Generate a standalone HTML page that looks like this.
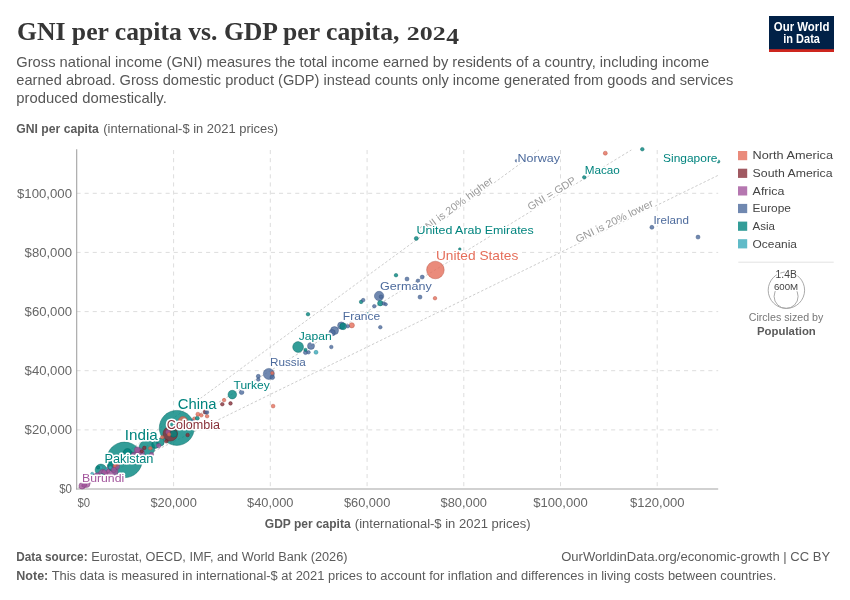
<!DOCTYPE html>
<html lang="en"><head><meta charset="utf-8"><title>GNI per capita vs. GDP per capita, 2024</title>
<style>
html,body{margin:0;padding:0;background:#fff;}
body{width:850px;height:600px;overflow:hidden;font-family:"Liberation Sans",sans-serif;}
svg{display:block;will-change:transform;opacity:0.999;}
text{font-family:"Liberation Sans",sans-serif;}
.ttl{font-family:"Liberation Serif",serif;}
.halo{paint-order:stroke;stroke:#fff;stroke-width:3.2px;stroke-linejoin:round;}
</style></head><body>
<svg width="850" height="600" viewBox="0 0 850 600">
<rect width="850" height="600" fill="#fff"/>
<g id="header">
<text class="ttl" x="17" y="40" font-weight="bold" font-size="24.5" fill="#363636" textLength="382.4" lengthAdjust="spacingAndGlyphs">GNI per capita vs. GDP per capita,</text>
<text class="ttl" x="406.8" y="40" font-weight="bold" font-size="18.4" fill="#363636" textLength="38.9" lengthAdjust="spacingAndGlyphs">202</text>
<text class="ttl" x="446.2" y="43.9" font-weight="bold" font-size="23.6" fill="#363636" textLength="12.8" lengthAdjust="spacingAndGlyphs">4</text>
<text x="16.3" y="66.5" font-size="15" fill="#565656" font-weight="normal" text-anchor="start" font-family="'Liberation Sans', sans-serif" textLength="693" lengthAdjust="spacingAndGlyphs">Gross national income (GNI) measures the total income earned by residents of a country, including income</text>
<text x="16.3" y="84.5" font-size="15" fill="#565656" font-weight="normal" text-anchor="start" font-family="'Liberation Sans', sans-serif" textLength="717" lengthAdjust="spacingAndGlyphs">earned abroad. Gross domestic product (GDP) instead counts only income generated from goods and services</text>
<text x="16.3" y="102.5" font-size="15" fill="#565656" font-weight="normal" text-anchor="start" font-family="'Liberation Sans', sans-serif" textLength="150.5" lengthAdjust="spacingAndGlyphs">produced domestically.</text>
</g>
<g id="logo">
<rect x="769" y="16" width="65" height="36" fill="#002147"/>
<rect x="769" y="49.2" width="65" height="2.8" fill="#ce261e"/>
<text x="801.6" y="30.6" font-size="12" font-weight="bold" fill="#fff" text-anchor="middle" textLength="55.6" lengthAdjust="spacingAndGlyphs">Our World</text>
<text x="801.6" y="42.7" font-size="12" font-weight="bold" fill="#fff" text-anchor="middle" textLength="36.6" lengthAdjust="spacingAndGlyphs">in Data</text>
</g>
<g id="axes">
<text x="16.3" y="133.3" font-size="12.5" fill="#5b5b5b" font-weight="bold" text-anchor="start" font-family="'Liberation Sans', sans-serif" textLength="82.5" lengthAdjust="spacingAndGlyphs">GNI per capita</text>
<text x="103.3" y="133.3" font-size="12.5" fill="#5b5b5b" font-weight="normal" text-anchor="start" font-family="'Liberation Sans', sans-serif" textLength="174.7" lengthAdjust="spacingAndGlyphs">(international-$ in 2021 prices)</text>
<line x1="76.5" x2="718.2" y1="429.9" y2="429.9" stroke="#ddd" stroke-width="1" stroke-dasharray="4.1,4"/>
<line x1="76.5" x2="718.2" y1="370.7" y2="370.7" stroke="#ddd" stroke-width="1" stroke-dasharray="4.1,4"/>
<line x1="76.5" x2="718.2" y1="311.6" y2="311.6" stroke="#ddd" stroke-width="1" stroke-dasharray="4.1,4"/>
<line x1="76.5" x2="718.2" y1="252.4" y2="252.4" stroke="#ddd" stroke-width="1" stroke-dasharray="4.1,4"/>
<line x1="76.5" x2="718.2" y1="193.3" y2="193.3" stroke="#ddd" stroke-width="1" stroke-dasharray="4.1,4"/>
<line x1="173.6" x2="173.6" y1="150.0" y2="489.0" stroke="#ddd" stroke-width="1" stroke-dasharray="4.1,4"/>
<line x1="270.3" x2="270.3" y1="150.0" y2="489.0" stroke="#ddd" stroke-width="1" stroke-dasharray="4.1,4"/>
<line x1="367.1" x2="367.1" y1="150.0" y2="489.0" stroke="#ddd" stroke-width="1" stroke-dasharray="4.1,4"/>
<line x1="463.8" x2="463.8" y1="150.0" y2="489.0" stroke="#ddd" stroke-width="1" stroke-dasharray="4.1,4"/>
<line x1="560.5" x2="560.5" y1="150.0" y2="489.0" stroke="#ddd" stroke-width="1" stroke-dasharray="4.1,4"/>
<line x1="657.2" x2="657.2" y1="150.0" y2="489.0" stroke="#ddd" stroke-width="1" stroke-dasharray="4.1,4"/>
<line x1="76.7" x2="76.7" y1="149.2" y2="489.5" stroke="#a3a3a3" stroke-width="1.1"/>
<line x1="76.1" x2="718.2" y1="489.05" y2="489.05" stroke="#a3a3a3" stroke-width="1.1"/>
<text x="72" y="493.3" font-size="12" fill="#666" font-weight="normal" text-anchor="end" font-family="'Liberation Sans', sans-serif" textLength="12.8" lengthAdjust="spacingAndGlyphs">$0</text>
<text x="72" y="434.2" font-size="12" fill="#666" font-weight="normal" text-anchor="end" font-family="'Liberation Sans', sans-serif" textLength="47.4" lengthAdjust="spacingAndGlyphs">$20,000</text>
<text x="72" y="375.0" font-size="12" fill="#666" font-weight="normal" text-anchor="end" font-family="'Liberation Sans', sans-serif" textLength="47.4" lengthAdjust="spacingAndGlyphs">$40,000</text>
<text x="72" y="315.9" font-size="12" fill="#666" font-weight="normal" text-anchor="end" font-family="'Liberation Sans', sans-serif" textLength="47.4" lengthAdjust="spacingAndGlyphs">$60,000</text>
<text x="72" y="256.7" font-size="12" fill="#666" font-weight="normal" text-anchor="end" font-family="'Liberation Sans', sans-serif" textLength="47.4" lengthAdjust="spacingAndGlyphs">$80,000</text>
<text x="72" y="197.6" font-size="12" fill="#666" font-weight="normal" text-anchor="end" font-family="'Liberation Sans', sans-serif" textLength="55.0" lengthAdjust="spacingAndGlyphs">$100,000</text>
<text x="77.5" y="506.7" font-size="12" fill="#666" font-weight="normal" text-anchor="start" font-family="'Liberation Sans', sans-serif" textLength="12.6" lengthAdjust="spacingAndGlyphs">$0</text>
<text x="173.6" y="506.7" font-size="12" fill="#666" font-weight="normal" text-anchor="middle" font-family="'Liberation Sans', sans-serif" textLength="46.4" lengthAdjust="spacingAndGlyphs">$20,000</text>
<text x="270.3" y="506.7" font-size="12" fill="#666" font-weight="normal" text-anchor="middle" font-family="'Liberation Sans', sans-serif" textLength="46.4" lengthAdjust="spacingAndGlyphs">$40,000</text>
<text x="367.1" y="506.7" font-size="12" fill="#666" font-weight="normal" text-anchor="middle" font-family="'Liberation Sans', sans-serif" textLength="46.4" lengthAdjust="spacingAndGlyphs">$60,000</text>
<text x="463.8" y="506.7" font-size="12" fill="#666" font-weight="normal" text-anchor="middle" font-family="'Liberation Sans', sans-serif" textLength="46.4" lengthAdjust="spacingAndGlyphs">$80,000</text>
<text x="560.5" y="506.7" font-size="12" fill="#666" font-weight="normal" text-anchor="middle" font-family="'Liberation Sans', sans-serif" textLength="54.4" lengthAdjust="spacingAndGlyphs">$100,000</text>
<text x="657.2" y="506.7" font-size="12" fill="#666" font-weight="normal" text-anchor="middle" font-family="'Liberation Sans', sans-serif" textLength="54.4" lengthAdjust="spacingAndGlyphs">$120,000</text>
<text x="264.8" y="527.7" font-size="12.5" fill="#5b5b5b" font-weight="bold" text-anchor="start" font-family="'Liberation Sans', sans-serif" textLength="85.8" lengthAdjust="spacingAndGlyphs">GDP per capita</text>
<text x="354.8" y="527.7" font-size="12.5" fill="#5b5b5b" font-weight="normal" text-anchor="start" font-family="'Liberation Sans', sans-serif" textLength="175.8" lengthAdjust="spacingAndGlyphs">(international-$ in 2021 prices)</text>
</g>
<g id="cmp">
<line x1="76.9" y1="489.0" x2="538.9" y2="150.0" stroke="#cdcdcd" stroke-width="1" stroke-dasharray="2.5,2"/>
<text class="halo" transform="translate(494.0,182.0) rotate(-36.27)" font-size="10.5" fill="#9a9a9a" text-anchor="end" textLength="90.0" lengthAdjust="spacingAndGlyphs">GNI is 20% higher</text>
<line x1="76.9" y1="489.0" x2="631.3" y2="150.0" stroke="#cdcdcd" stroke-width="1" stroke-dasharray="2.5,2"/>
<text class="halo" transform="translate(576.7,182.4) rotate(-31.44)" font-size="10.5" fill="#9a9a9a" text-anchor="end" textLength="54.5" lengthAdjust="spacingAndGlyphs">GNI = GDP</text>
<line x1="76.9" y1="489.0" x2="718.2" y2="175.3" stroke="#cdcdcd" stroke-width="1" stroke-dasharray="2.5,2"/>
<text class="halo" transform="translate(654.0,205.7) rotate(-26.07)" font-size="10.5" fill="#9a9a9a" text-anchor="end" textLength="85.0" lengthAdjust="spacingAndGlyphs">GNI is 20% lower</text>
</g>
<g id="pts" stroke-width="0.5">
<circle cx="124.5" cy="459.9" r="17.8" fill="#00847e" fill-opacity="0.8" stroke="#00635e" stroke-opacity="0.85"/>
<circle cx="176.8" cy="427.9" r="17.5" fill="#00847e" fill-opacity="0.8" stroke="#00635e" stroke-opacity="0.85"/>
<circle cx="435.4" cy="270.0" r="8.8" fill="#e56e5a" fill-opacity="0.8" stroke="#b4503f" stroke-opacity="0.85"/>
<circle cx="146.9" cy="448.1" r="8.0" fill="#00847e" fill-opacity="0.8" stroke="#00635e" stroke-opacity="0.85"/>
<circle cx="170.3" cy="433.8" r="7.3" fill="#883039" fill-opacity="0.8" stroke="#5e1c24" stroke-opacity="0.85"/>
<circle cx="173.6" cy="433.8" r="3.5" fill="#00847e" fill-opacity="0.8" stroke="#00635e" stroke-opacity="0.85"/>
<circle cx="100.9" cy="469.9" r="5.8" fill="#00847e" fill-opacity="0.8" stroke="#00635e" stroke-opacity="0.85"/>
<circle cx="111.6" cy="471.9" r="6.3" fill="#a2559c" fill-opacity="0.8" stroke="#7a3a75" stroke-opacity="0.85"/>
<circle cx="112.8" cy="465.8" r="5.2" fill="#00847e" fill-opacity="0.8" stroke="#00635e" stroke-opacity="0.85"/>
<circle cx="268.8" cy="373.9" r="5.5" fill="#4c6a9c" fill-opacity="0.8" stroke="#34507c" stroke-opacity="0.85"/>
<circle cx="298.1" cy="347.0" r="5.4" fill="#00847e" fill-opacity="0.8" stroke="#00635e" stroke-opacity="0.85"/>
<circle cx="182.9" cy="421.3" r="4.7" fill="#e56e5a" fill-opacity="0.8" stroke="#b4503f" stroke-opacity="0.85"/>
<circle cx="102.8" cy="473.9" r="4.4" fill="#a2559c" fill-opacity="0.8" stroke="#7a3a75" stroke-opacity="0.85"/>
<circle cx="127.5" cy="452.9" r="4.3" fill="#00847e" fill-opacity="0.8" stroke="#00635e" stroke-opacity="0.85"/>
<circle cx="131.3" cy="455.8" r="4.0" fill="#00847e" fill-opacity="0.8" stroke="#00635e" stroke-opacity="0.85"/>
<circle cx="139.8" cy="452.8" r="4.6" fill="#a2559c" fill-opacity="0.8" stroke="#7a3a75" stroke-opacity="0.85"/>
<circle cx="379.1" cy="296.0" r="4.7" fill="#4c6a9c" fill-opacity="0.8" stroke="#34507c" stroke-opacity="0.85"/>
<circle cx="232.3" cy="394.6" r="4.3" fill="#00847e" fill-opacity="0.8" stroke="#00635e" stroke-opacity="0.85"/>
<circle cx="160.3" cy="442.1" r="4.0" fill="#00847e" fill-opacity="0.8" stroke="#00635e" stroke-opacity="0.85"/>
<circle cx="155.3" cy="444.8" r="3.6" fill="#00847e" fill-opacity="0.8" stroke="#00635e" stroke-opacity="0.85"/>
<circle cx="334.5" cy="330.6" r="4.0" fill="#4c6a9c" fill-opacity="0.8" stroke="#34507c" stroke-opacity="0.85"/>
<circle cx="341.3" cy="325.6" r="3.7" fill="#4c6a9c" fill-opacity="0.8" stroke="#34507c" stroke-opacity="0.85"/>
<circle cx="343.1" cy="326.3" r="3.4" fill="#00847e" fill-opacity="0.8" stroke="#00635e" stroke-opacity="0.85"/>
<circle cx="332.1" cy="332.7" r="3.2" fill="#4c6a9c" fill-opacity="0.8" stroke="#34507c" stroke-opacity="0.85"/>
<circle cx="311.0" cy="345.9" r="3.5" fill="#4c6a9c" fill-opacity="0.8" stroke="#34507c" stroke-opacity="0.85"/>
<circle cx="351.8" cy="325.3" r="2.6" fill="#e56e5a" fill-opacity="0.8" stroke="#b4503f" stroke-opacity="0.85"/>
<circle cx="380.3" cy="303.2" r="2.7" fill="#00847e" fill-opacity="0.8" stroke="#00635e" stroke-opacity="0.85"/>
<circle cx="86.3" cy="483.8" r="3.8" fill="#a2559c" fill-opacity="0.8" stroke="#7a3a75" stroke-opacity="0.85"/>
<circle cx="90.8" cy="479.3" r="3.6" fill="#a2559c" fill-opacity="0.8" stroke="#7a3a75" stroke-opacity="0.85"/>
<circle cx="94.8" cy="477.3" r="3.4" fill="#a2559c" fill-opacity="0.8" stroke="#7a3a75" stroke-opacity="0.85"/>
<circle cx="97.3" cy="475.8" r="3.0" fill="#a2559c" fill-opacity="0.8" stroke="#7a3a75" stroke-opacity="0.85"/>
<circle cx="82.1" cy="485.9" r="3.2" fill="#a2559c" fill-opacity="0.8" stroke="#7a3a75" stroke-opacity="0.85"/>
<circle cx="84.3" cy="485.1" r="2.4" fill="#a2559c" fill-opacity="0.8" stroke="#7a3a75" stroke-opacity="0.85"/>
<circle cx="104.8" cy="472.8" r="3.2" fill="#a2559c" fill-opacity="0.8" stroke="#7a3a75" stroke-opacity="0.85"/>
<circle cx="116.3" cy="466.3" r="3.2" fill="#a2559c" fill-opacity="0.8" stroke="#7a3a75" stroke-opacity="0.85"/>
<circle cx="113.8" cy="469.8" r="2.6" fill="#a2559c" fill-opacity="0.8" stroke="#7a3a75" stroke-opacity="0.85"/>
<circle cx="137.3" cy="449.9" r="3.0" fill="#a2559c" fill-opacity="0.8" stroke="#7a3a75" stroke-opacity="0.85"/>
<circle cx="133.8" cy="454.8" r="2.6" fill="#a2559c" fill-opacity="0.8" stroke="#7a3a75" stroke-opacity="0.85"/>
<circle cx="151.6" cy="454.3" r="2.0" fill="#a2559c" fill-opacity="0.8" stroke="#7a3a75" stroke-opacity="0.85"/>
<circle cx="158.7" cy="445.6" r="2.2" fill="#a2559c" fill-opacity="0.8" stroke="#7a3a75" stroke-opacity="0.85"/>
<circle cx="167.9" cy="432.1" r="2.3" fill="#a2559c" fill-opacity="0.8" stroke="#7a3a75" stroke-opacity="0.85"/>
<circle cx="101.0" cy="467.3" r="1.6" fill="#38aaba" fill-opacity="0.8" stroke="#2a8391" stroke-opacity="0.85"/>
<circle cx="110.3" cy="467.5" r="1.6" fill="#38aaba" fill-opacity="0.8" stroke="#2a8391" stroke-opacity="0.85"/>
<circle cx="92.2" cy="473.8" r="1.6" fill="#38aaba" fill-opacity="0.8" stroke="#2a8391" stroke-opacity="0.85"/>
<circle cx="106.3" cy="469.3" r="1.4" fill="#38aaba" fill-opacity="0.8" stroke="#2a8391" stroke-opacity="0.85"/>
<circle cx="98.1" cy="467.5" r="1.6" fill="#00847e" fill-opacity="0.8" stroke="#00635e" stroke-opacity="0.85"/>
<circle cx="108.1" cy="471.1" r="1.8" fill="#a2559c" fill-opacity="0.8" stroke="#7a3a75" stroke-opacity="0.85"/>
<circle cx="102.3" cy="475.8" r="2.0" fill="#00847e" fill-opacity="0.8" stroke="#00635e" stroke-opacity="0.85"/>
<circle cx="117.3" cy="463.8" r="1.8" fill="#e56e5a" fill-opacity="0.8" stroke="#b4503f" stroke-opacity="0.85"/>
<circle cx="114.8" cy="465.8" r="1.6" fill="#e56e5a" fill-opacity="0.8" stroke="#b4503f" stroke-opacity="0.85"/>
<circle cx="144.3" cy="447.9" r="1.8" fill="#883039" fill-opacity="0.8" stroke="#5e1c24" stroke-opacity="0.85"/>
<circle cx="150.3" cy="448.3" r="1.8" fill="#e56e5a" fill-opacity="0.8" stroke="#b4503f" stroke-opacity="0.85"/>
<circle cx="141.8" cy="451.3" r="1.6" fill="#883039" fill-opacity="0.8" stroke="#5e1c24" stroke-opacity="0.85"/>
<circle cx="162.3" cy="437.2" r="1.8" fill="#e56e5a" fill-opacity="0.8" stroke="#b4503f" stroke-opacity="0.85"/>
<circle cx="166.3" cy="441.3" r="1.8" fill="#883039" fill-opacity="0.8" stroke="#5e1c24" stroke-opacity="0.85"/>
<circle cx="169.1" cy="434.4" r="1.8" fill="#e56e5a" fill-opacity="0.8" stroke="#b4503f" stroke-opacity="0.85"/>
<circle cx="187.6" cy="435.0" r="1.8" fill="#883039" fill-opacity="0.8" stroke="#5e1c24" stroke-opacity="0.85"/>
<circle cx="192.7" cy="420.9" r="1.6" fill="#4c6a9c" fill-opacity="0.8" stroke="#34507c" stroke-opacity="0.85"/>
<circle cx="194.3" cy="418.5" r="1.6" fill="#e56e5a" fill-opacity="0.8" stroke="#b4503f" stroke-opacity="0.85"/>
<circle cx="197.3" cy="418.2" r="2.0" fill="#00847e" fill-opacity="0.8" stroke="#00635e" stroke-opacity="0.85"/>
<circle cx="197.9" cy="414.2" r="2.0" fill="#e56e5a" fill-opacity="0.8" stroke="#b4503f" stroke-opacity="0.85"/>
<circle cx="201.3" cy="415.3" r="1.8" fill="#e56e5a" fill-opacity="0.8" stroke="#b4503f" stroke-opacity="0.85"/>
<circle cx="207.1" cy="416.2" r="1.8" fill="#e56e5a" fill-opacity="0.8" stroke="#b4503f" stroke-opacity="0.85"/>
<circle cx="205.3" cy="411.9" r="2.2" fill="#883039" fill-opacity="0.8" stroke="#5e1c24" stroke-opacity="0.85"/>
<circle cx="206.8" cy="412.2" r="2.0" fill="#4c6a9c" fill-opacity="0.8" stroke="#34507c" stroke-opacity="0.85"/>
<circle cx="222.3" cy="404.2" r="1.8" fill="#883039" fill-opacity="0.8" stroke="#5e1c24" stroke-opacity="0.85"/>
<circle cx="224.1" cy="400.1" r="1.8" fill="#e56e5a" fill-opacity="0.8" stroke="#b4503f" stroke-opacity="0.85"/>
<circle cx="230.5" cy="403.4" r="1.8" fill="#883039" fill-opacity="0.8" stroke="#5e1c24" stroke-opacity="0.85"/>
<circle cx="241.6" cy="392.3" r="2.3" fill="#4c6a9c" fill-opacity="0.8" stroke="#34507c" stroke-opacity="0.85"/>
<circle cx="273.1" cy="406.1" r="1.9" fill="#e56e5a" fill-opacity="0.8" stroke="#b4503f" stroke-opacity="0.85"/>
<circle cx="272.3" cy="377.3" r="2.3" fill="#4c6a9c" fill-opacity="0.8" stroke="#34507c" stroke-opacity="0.85"/>
<circle cx="272.3" cy="373.1" r="1.7" fill="#e56e5a" fill-opacity="0.8" stroke="#b4503f" stroke-opacity="0.85"/>
<circle cx="381.0" cy="296.7" r="1.8" fill="#4c6a9c" fill-opacity="0.8" stroke="#34507c" stroke-opacity="0.85"/>
<circle cx="258.3" cy="376.3" r="2.0" fill="#4c6a9c" fill-opacity="0.8" stroke="#34507c" stroke-opacity="0.85"/>
<circle cx="258.3" cy="379.6" r="1.8" fill="#4c6a9c" fill-opacity="0.8" stroke="#34507c" stroke-opacity="0.85"/>
<circle cx="305.5" cy="352.5" r="2.1" fill="#4c6a9c" fill-opacity="0.8" stroke="#34507c" stroke-opacity="0.85"/>
<circle cx="305.5" cy="349.8" r="1.6" fill="#00847e" fill-opacity="0.8" stroke="#00635e" stroke-opacity="0.85"/>
<circle cx="308.5" cy="352.3" r="1.8" fill="#4c6a9c" fill-opacity="0.8" stroke="#34507c" stroke-opacity="0.85"/>
<circle cx="316.0" cy="352.3" r="2.0" fill="#38aaba" fill-opacity="0.8" stroke="#2a8391" stroke-opacity="0.85"/>
<circle cx="331.3" cy="347.0" r="1.8" fill="#4c6a9c" fill-opacity="0.8" stroke="#34507c" stroke-opacity="0.85"/>
<circle cx="308.0" cy="314.2" r="1.8" fill="#00847e" fill-opacity="0.8" stroke="#00635e" stroke-opacity="0.85"/>
<circle cx="347.8" cy="326.2" r="1.8" fill="#4c6a9c" fill-opacity="0.8" stroke="#34507c" stroke-opacity="0.85"/>
<circle cx="380.3" cy="327.2" r="1.8" fill="#4c6a9c" fill-opacity="0.8" stroke="#34507c" stroke-opacity="0.85"/>
<circle cx="361.1" cy="301.9" r="1.8" fill="#00847e" fill-opacity="0.8" stroke="#00635e" stroke-opacity="0.85"/>
<circle cx="363.2" cy="300.1" r="1.8" fill="#4c6a9c" fill-opacity="0.8" stroke="#34507c" stroke-opacity="0.85"/>
<circle cx="374.3" cy="306.2" r="1.8" fill="#4c6a9c" fill-opacity="0.8" stroke="#34507c" stroke-opacity="0.85"/>
<circle cx="383.8" cy="303.5" r="1.8" fill="#4c6a9c" fill-opacity="0.8" stroke="#34507c" stroke-opacity="0.85"/>
<circle cx="385.8" cy="304.3" r="1.6" fill="#4c6a9c" fill-opacity="0.8" stroke="#34507c" stroke-opacity="0.85"/>
<circle cx="367.8" cy="313.6" r="1.0" fill="#38aaba" fill-opacity="0.8" stroke="#2a8391" stroke-opacity="0.85"/>
<circle cx="396.0" cy="275.2" r="1.8" fill="#00847e" fill-opacity="0.8" stroke="#00635e" stroke-opacity="0.85"/>
<circle cx="407.0" cy="279.0" r="2.0" fill="#4c6a9c" fill-opacity="0.8" stroke="#34507c" stroke-opacity="0.85"/>
<circle cx="417.9" cy="280.8" r="1.8" fill="#4c6a9c" fill-opacity="0.8" stroke="#34507c" stroke-opacity="0.85"/>
<circle cx="422.2" cy="277.1" r="2.0" fill="#4c6a9c" fill-opacity="0.8" stroke="#34507c" stroke-opacity="0.85"/>
<circle cx="420.0" cy="297.1" r="2.0" fill="#4c6a9c" fill-opacity="0.8" stroke="#34507c" stroke-opacity="0.85"/>
<circle cx="435.0" cy="298.2" r="1.8" fill="#e56e5a" fill-opacity="0.8" stroke="#b4503f" stroke-opacity="0.85"/>
<circle cx="416.3" cy="238.4" r="2.0" fill="#00847e" fill-opacity="0.8" stroke="#00635e" stroke-opacity="0.85"/>
<circle cx="459.8" cy="249.1" r="1.3" fill="#00847e" fill-opacity="0.8" stroke="#00635e" stroke-opacity="0.85"/>
<circle cx="516.5" cy="160.7" r="1.3" fill="#4c6a9c" fill-opacity="0.8" stroke="#34507c" stroke-opacity="0.85"/>
<circle cx="605.3" cy="153.2" r="2.0" fill="#e56e5a" fill-opacity="0.8" stroke="#b4503f" stroke-opacity="0.85"/>
<circle cx="642.3" cy="149.2" r="1.8" fill="#00847e" fill-opacity="0.8" stroke="#00635e" stroke-opacity="0.85"/>
<circle cx="584.3" cy="177.3" r="1.8" fill="#00847e" fill-opacity="0.8" stroke="#00635e" stroke-opacity="0.85"/>
<circle cx="718.3" cy="161.5" r="1.6" fill="#00847e" fill-opacity="0.8" stroke="#00635e" stroke-opacity="0.85"/>
<circle cx="651.9" cy="227.3" r="2.0" fill="#4c6a9c" fill-opacity="0.8" stroke="#34507c" stroke-opacity="0.85"/>
<circle cx="698.0" cy="237.1" r="2.0" fill="#4c6a9c" fill-opacity="0.8" stroke="#34507c" stroke-opacity="0.85"/>
</g>
<g id="labels">
<text class="halo" x="517.6" y="161.6" font-size="11.6" fill="#4c6a9c" textLength="42.4" lengthAdjust="spacingAndGlyphs">Norway</text>
<text class="halo" x="584.7" y="173.8" font-size="11.6" fill="#00847e" textLength="35.2" lengthAdjust="spacingAndGlyphs">Macao</text>
<text class="halo" x="663.1" y="161.6" font-size="11.6" fill="#00847e" textLength="54.4" lengthAdjust="spacingAndGlyphs">Singapore</text>
<text class="halo" x="653.4" y="223.9" font-size="11.6" fill="#4c6a9c" textLength="35.5" lengthAdjust="spacingAndGlyphs">Ireland</text>
<text class="halo" x="416.5" y="234.4" font-size="11.6" fill="#00847e" textLength="117.2" lengthAdjust="spacingAndGlyphs">United Arab Emirates</text>
<text class="halo" x="435.9" y="259.8" font-size="13.5" fill="#e56e5a" textLength="82.4" lengthAdjust="spacingAndGlyphs">United States</text>
<text class="halo" x="380.0" y="290.0" font-size="11.7" fill="#4c6a9c" textLength="51.7" lengthAdjust="spacingAndGlyphs">Germany</text>
<text class="halo" x="342.8" y="320.3" font-size="11.6" fill="#4c6a9c" textLength="37.5" lengthAdjust="spacingAndGlyphs">France</text>
<text class="halo" x="298.7" y="340.2" font-size="11.6" fill="#00847e" textLength="33" lengthAdjust="spacingAndGlyphs">Japan</text>
<text class="halo" x="270.0" y="366.2" font-size="11.4" fill="#4c6a9c" textLength="35.8" lengthAdjust="spacingAndGlyphs">Russia</text>
<text class="halo" x="233.5" y="389.3" font-size="11.6" fill="#00847e" textLength="36.3" lengthAdjust="spacingAndGlyphs">Turkey</text>
<text class="halo" x="177.8" y="408.5" font-size="15.4" fill="#00847e" textLength="38.7" lengthAdjust="spacingAndGlyphs">China</text>
<text class="halo" x="166.8" y="429.0" font-size="12.5" fill="#883039" textLength="53.2" lengthAdjust="spacingAndGlyphs">Colombia</text>
<text class="halo" x="124.8" y="440.0" font-size="14.8" fill="#00847e" textLength="33.0" lengthAdjust="spacingAndGlyphs">India</text>
<text class="halo" x="104.4" y="463.1" font-size="12.4" fill="#00847e" textLength="49" lengthAdjust="spacingAndGlyphs">Pakistan</text>
<text class="halo" x="82.0" y="482.0" font-size="10.8" fill="#a2559c" textLength="42.2" lengthAdjust="spacingAndGlyphs">Burundi</text>
</g>
<g id="legend">
<rect x="738" y="151.0" width="9.2" height="9.2" fill="#e56e5a" fill-opacity="0.8"/>
<text x="752.6" y="159.4" font-size="11.7" fill="#444" font-weight="normal" text-anchor="start" font-family="'Liberation Sans', sans-serif" textLength="80.4" lengthAdjust="spacingAndGlyphs">North America</text>
<rect x="738" y="168.7" width="9.2" height="9.2" fill="#883039" fill-opacity="0.8"/>
<text x="752.6" y="177.1" font-size="11.7" fill="#444" font-weight="normal" text-anchor="start" font-family="'Liberation Sans', sans-serif" textLength="80.0" lengthAdjust="spacingAndGlyphs">South America</text>
<rect x="738" y="186.3" width="9.2" height="9.2" fill="#a2559c" fill-opacity="0.8"/>
<text x="752.6" y="194.7" font-size="11.7" fill="#444" font-weight="normal" text-anchor="start" font-family="'Liberation Sans', sans-serif" textLength="31.8" lengthAdjust="spacingAndGlyphs">Africa</text>
<rect x="738" y="203.9" width="9.2" height="9.2" fill="#4c6a9c" fill-opacity="0.8"/>
<text x="752.6" y="212.3" font-size="11.7" fill="#444" font-weight="normal" text-anchor="start" font-family="'Liberation Sans', sans-serif" textLength="38.4" lengthAdjust="spacingAndGlyphs">Europe</text>
<rect x="738" y="221.6" width="9.2" height="9.2" fill="#00847e" fill-opacity="0.8"/>
<text x="752.6" y="230.0" font-size="11.7" fill="#444" font-weight="normal" text-anchor="start" font-family="'Liberation Sans', sans-serif" textLength="22.4" lengthAdjust="spacingAndGlyphs">Asia</text>
<rect x="738" y="239.2" width="9.2" height="9.2" fill="#38aaba" fill-opacity="0.8"/>
<text x="752.6" y="247.7" font-size="11.7" fill="#444" font-weight="normal" text-anchor="start" font-family="'Liberation Sans', sans-serif" textLength="44.4" lengthAdjust="spacingAndGlyphs">Oceania</text>
<line x1="738.3" x2="833.7" y1="262.2" y2="262.2" stroke="#e2e2e2" stroke-width="1"/>
<circle cx="786.4" cy="290.2" r="18.2" fill="none" stroke="#a0a0a0" stroke-width="0.9"/>
<circle cx="786.1" cy="296.4" r="12" fill="none" stroke="#a0a0a0" stroke-width="0.9"/>
<text class="halo" style="stroke-width:2.4px" x="786.2" y="278.4" font-size="10" fill="#444" text-anchor="middle" textLength="21.2" lengthAdjust="spacingAndGlyphs">1.4B</text>
<text class="halo" style="stroke-width:2.4px" x="786.0" y="289.6" font-size="8.6" fill="#444" text-anchor="middle" textLength="24.2" lengthAdjust="spacingAndGlyphs">600M</text>
<text x="786" y="321.3" font-size="11.7" fill="#777" font-weight="normal" text-anchor="middle" font-family="'Liberation Sans', sans-serif" textLength="74.6" lengthAdjust="spacingAndGlyphs">Circles sized by</text>
<text x="786.4" y="334.7" font-size="11.7" fill="#5b5b5b" font-weight="bold" text-anchor="middle" font-family="'Liberation Sans', sans-serif" textLength="58.8" lengthAdjust="spacingAndGlyphs">Population</text>
</g>
<g id="footer">
<text x="16.3" y="560.6" font-size="12.5" fill="#5b5b5b" font-weight="bold" text-anchor="start" font-family="'Liberation Sans', sans-serif" textLength="71.3" lengthAdjust="spacingAndGlyphs">Data source:</text>
<text x="91.2" y="560.6" font-size="12.5" fill="#5b5b5b" font-weight="normal" text-anchor="start" font-family="'Liberation Sans', sans-serif" textLength="256.3" lengthAdjust="spacingAndGlyphs">Eurostat, OECD, IMF, and World Bank (2026)</text>
<text x="830.2" y="560.6" font-size="12.5" fill="#5b5b5b" font-weight="normal" text-anchor="end" font-family="'Liberation Sans', sans-serif" textLength="269" lengthAdjust="spacingAndGlyphs">OurWorldinData.org/economic-growth | CC BY</text>
<text x="16.3" y="580.2" font-size="12.5" fill="#5b5b5b" font-weight="bold" text-anchor="start" font-family="'Liberation Sans', sans-serif" textLength="32" lengthAdjust="spacingAndGlyphs">Note:</text>
<text x="51.7" y="580.2" font-size="12.5" fill="#5b5b5b" font-weight="normal" text-anchor="start" font-family="'Liberation Sans', sans-serif" textLength="724.6" lengthAdjust="spacingAndGlyphs">This data is measured in international-$ at 2021 prices to account for inflation and differences in living costs between countries.</text>
</g>
</svg>
</body></html>
